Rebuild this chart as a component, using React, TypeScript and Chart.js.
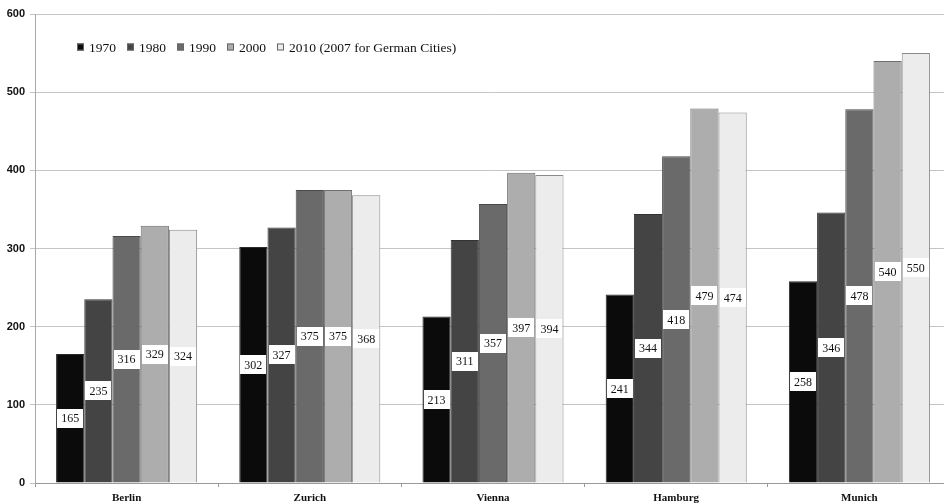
import React, { useEffect, useRef } from "react";
import { Chart, registerables } from "chart.js";

Chart.register(...registerables);

// Population per city and census year
const categories = ["Berlin", "Zurich", "Vienna", "Hamburg", "Munich"];
const seriesLabels = ["1970", "1980", "1990", "2000", "2010 (2007 for German Cities)"];
const values1970 = [165, 302, 213, 241, 258];
const values1980 = [235, 327, 311, 344, 346];
const values1990 = [316, 375, 357, 418, 478];
const values2000 = [329, 375, 397, 479, 540];
const values2010 = [324, 368, 394, 474, 550];
const yMin = 0;
const yMax = 600;
const yStep = 100;

const seriesValues = [values1970, values1980, values1990, values2000, values2010];
const seriesColors = ["#0b0b0b", "#444444", "#6a6a6a", "#adadad", "#ececec"];
const seriesBorders = ["#2a2a2a", "#333333", "#4a4a4a", "#6e6e6e", "#8a8a8a"];

const SERIF = "'Liberation Serif', 'Times New Roman', serif";
const SANS = "'Liberation Sans', Arial, sans-serif";

// White boxed value labels in the middle of each bar
const valueLabels = {
  id: "valueLabels",
  afterDatasetsDraw(chart: any) {
    const ctx = chart.ctx;
    ctx.save();
    ctx.font = `12px ${SERIF}`;
    ctx.textAlign = "center";
    ctx.textBaseline = "middle";
    chart.data.datasets.forEach((ds: any, di: number) => {
      const meta = chart.getDatasetMeta(di);
      meta.data.forEach((bar: any, i: number) => {
        const text = String(ds.data[i]);
        const cy = (bar.y + bar.base) / 2;
        const w = ctx.measureText(text).width + 8;
        const h = 19;
        ctx.fillStyle = "#ffffff";
        ctx.fillRect(Math.round(bar.x - w / 2), Math.round(cy - h / 2), Math.round(w), h);
        ctx.fillStyle = "#111111";
        ctx.fillText(text, bar.x, cy + 1);
      });
    });
    ctx.restore();
  },
};

// Legend row drawn inside the plot area, near its top-left corner
const insideLegend = {
  id: "insideLegend",
  afterDraw(chart: any) {
    const ctx = chart.ctx;
    const area = chart.chartArea;
    ctx.save();
    ctx.font = `13.5px ${SERIF}`;
    ctx.textAlign = "left";
    ctx.textBaseline = "middle";
    let x = area.left + 42;
    const cy = area.top + 33;
    chart.data.datasets.forEach((ds: any) => {
      const s = 7;
      ctx.fillStyle = ds.backgroundColor;
      ctx.fillRect(x, cy - s / 2, s, s);
      ctx.strokeStyle = "#666666";
      ctx.lineWidth = 1;
      ctx.strokeRect(x + 0.5, cy - s / 2 + 0.5, s - 1, s - 1);
      ctx.fillStyle = "#111111";
      ctx.fillText(ds.label, x + 12, cy + 1);
      x += 12 + ctx.measureText(ds.label).width + 11;
    });
    ctx.restore();
  },
};

export default function App() {
  const canvasRef = useRef<HTMLCanvasElement | null>(null);

  useEffect(() => {
    const canvas = canvasRef.current;
    if (!canvas) return;
    const chart = new Chart(canvas, {
      type: "bar",
      data: {
        labels: categories,
        datasets: seriesLabels.map((label, i) => ({
          label,
          data: seriesValues[i],
          backgroundColor: seriesColors[i],
          borderColor: seriesBorders[i],
          borderWidth: 1,
          categoryPercentage: 0.77,
          barPercentage: 1.0,
        })),
      },
      options: {
        responsive: false,
        animation: false,
        devicePixelRatio: 1,
        layout: { padding: { top: 14, right: 0, bottom: 0, left: 0 } },
        plugins: {
          legend: { display: false },
          tooltip: { enabled: false },
        },
        scales: {
          x: {
            grid: {
              display: true,
              drawOnChartArea: false,
              drawTicks: true,
              tickLength: 4,
              color: "#9a9a9a",
            },
            border: { display: true, color: "#9a9a9a" },
            ticks: {
              color: "#111111",
              font: { family: SERIF, size: 11, weight: "bold" },
              padding: 5,
            },
            afterFit: (scale: any) => {
              scale.height = 21;
            },
          },
          y: {
            min: yMin,
            max: yMax,
            ticks: {
              stepSize: yStep,
              color: "#111111",
              font: { family: SANS, size: 11, weight: "bold" },
              padding: 5,
            },
            grid: { color: "#c4c4c4", tickLength: 5 },
            border: { display: true, color: "#a8a8a8" },
            afterFit: (scale: any) => {
              scale.width = 35;
            },
          },
        },
      },
      plugins: [valueLabels, insideLegend],
    });
    return () => chart.destroy();
  }, []);

  return (
    <div
      style={{
        position: "fixed",
        left: 0,
        top: 0,
        width: 944,
        height: 504,
        overflow: "hidden",
        background: "#ffffff",
      }}
    >
      <canvas ref={canvasRef} width={951} height={504} style={{ display: "block" }} />
    </div>
  );
}
